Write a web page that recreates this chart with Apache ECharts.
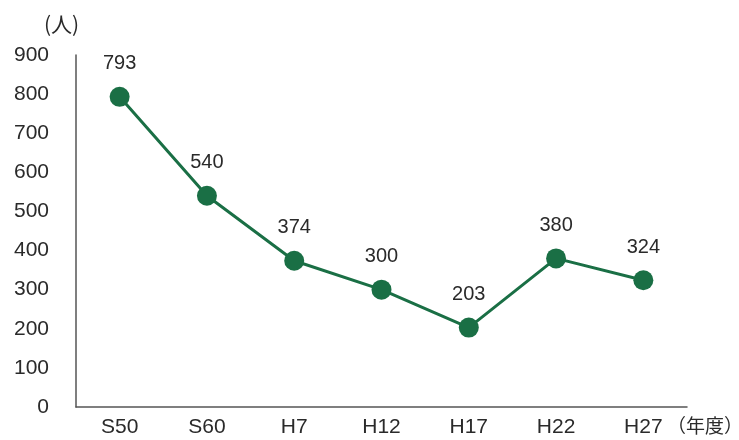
<!DOCTYPE html>
<html><head><meta charset="utf-8">
<script src="https://cdn.jsdelivr.net/npm/echarts@6/dist/echarts.min.js"></script>
<style>html,body{margin:0;padding:0;background:#fff}#c{width:739px;height:440px}</style>
</head><body><div id="c"></div>
<script>
const categories = ['S50','S60','H7','H12','H17','H22','H27'];
const values = [793,540,374,300,203,380,324];
const yTicks = [0,100,200,300,400,500,600,700,800,900];

const chart = echarts.init(document.getElementById('c'), null, {renderer:'canvas'});
const font = 'Helvetica, Arial, "Liberation Sans", sans-serif';
const cjk = '"Noto Sans CJK JP", sans-serif';
chart.setOption({
  animation:false,
  grid:{left:76,right:52,top:55,bottom:33,containLabel:false,outerBoundsMode:'none'},
  xAxis:{type:'category',data:categories,boundaryGap:true,
    axisLine:{lineStyle:{color:'#555',width:1.5}},axisTick:{show:false},
    axisLabel:{color:'#2a2a2a',fontSize:21,fontFamily:font,margin:10}},
  yAxis:{type:'value',min:0,max:900,interval:100,
    axisLine:{show:true,lineStyle:{color:'#555',width:1.5}},axisTick:{show:false},splitLine:{show:false},
    axisLabel:{color:'#2a2a2a',fontSize:21,fontFamily:font,margin:27,
      formatter:v=>yTicks.includes(v)?String(v):''}},
  graphic:[
    {type:'text',left:44,top:14,style:{text:'(人)',fill:'#2a2a2a',font:'21px '+cjk}},
    {type:'text',right:-4,top:416,style:{text:'（年度）',fill:'#2a2a2a',font:'19px '+cjk}}
  ],
  series:[{type:'line',data:values,symbol:'circle',symbolSize:20,
    itemStyle:{color:'#1a6f45'},lineStyle:{color:'#1a6f45',width:3},
    label:{show:true,position:'top',distance:13,color:'#2a2a2a',fontSize:20,fontFamily:font}}]
});
</script></body></html>
